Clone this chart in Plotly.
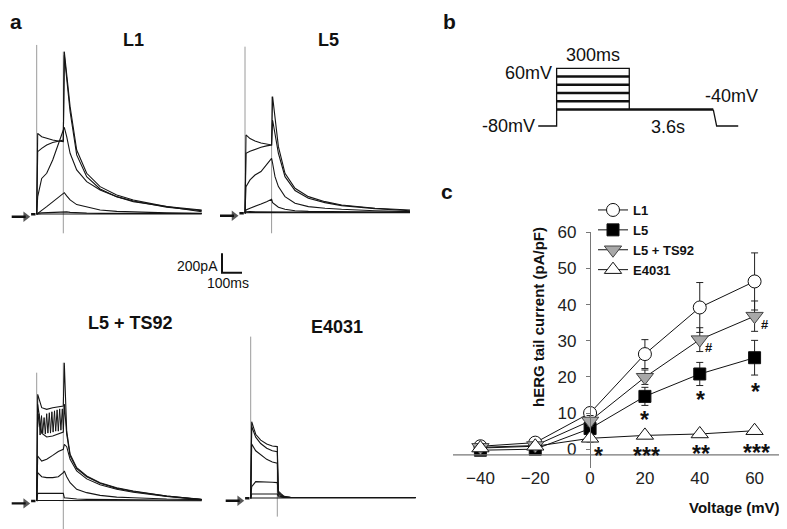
import plotly.graph_objects as go

# the page body adds an 8 px margin, so the figure is laid out in reference
# pixels shifted by OFF and sized to fit the window
W, H, OFF = 787, 529, 8
WF, HF = W - OFF, H - OFF
FONT = "Liberation Sans, Arial, sans-serif"
NARROW = "Liberation Sans Narrow, Liberation Sans, Arial, sans-serif"

# ---- panel a: hERG current traces (pA), sampled at T_MS (ms after step onset)
T_MS = [0, 5, 25, 50, 80, 108, 133, 138, 150, 167, 200, 250, 317, 400, 483, 650, 825]
SWEEP_MV = [60, 40, 20, 0, -20, -40]
HOLD_MS = [-28, -6]
ARROW_MS = [-125, -55]

L1_TRACES = [
    [0, 835, 800, 784, 766, 755, 749, 1677, 1454, 1110, 663, 423, 285, 199, 148, 79, 45],
    [0, 646, 680, 715, 740, 755, 766, 1640, 1400, 1059, 612, 388, 261, 182, 137, 72, 38],
    [0, 182, 370, 423, 560, 732, 880, 897, 801, 629, 457, 337, 251, 180, 131, 79, 27],
    [0, 10, 40, 79, 131, 180, 217, 223, 190, 148, 100, 79, 45, 30, 24, 15, 10],
    [0, 10, 15, 18, 20, 22, 25, 30, 25, 20, 15, 12, 10, 10, 8, 8, 8],
    [0, 2, 3, 3, 3, 3, 3, 5, 5, 5, 3, 3, 3, 3, 3, 3, 3],
]
L1_CAP = [1746, 1677, -196]

L5_TRACES = [
    [0, 808, 770, 745, 725, 712, 705, 1203, 962, 687, 412, 258, 172, 120, 86, 52, 34],
    [0, 619, 640, 660, 680, 695, 705, 962, 825, 619, 378, 234, 155, 110, 79, 48, 27],
    [0, 275, 344, 395, 430, 498, 567, 516, 378, 275, 172, 103, 69, 52, 41, 27, 17],
    [0, 34, 52, 69, 96, 120, 144, 110, 86, 62, 41, 27, 20, 17, 15, 14, 14],
    [0, 15, 17, 17, 17, 18, 18, 20, 18, 17, 15, 14, 12, 12, 12, 10, 10],
    [0, 5, 7, 7, 7, 7, 7, 7, 7, 7, 7, 5, 5, 5, 5, 5, 5],
]
L5_CAP = [1718, 1203, -206]

TS92_TRACES = [
    [0, 1100, 962, 945, 962, 970, 980, 1426, 720, 481, 344, 258, 189, 137, 103, 52, 17],
    [0, 1000, 700, 660, 670, 690, 710, 1000, 690, 465, 333, 250, 182, 130, 98, 50, 16],
    [0, 464, 412, 430, 470, 510, 533, 584, 560, 430, 310, 228, 168, 122, 90, 46, 14],
    [0, 292, 250, 241, 241, 250, 292, 309, 250, 189, 120, 86, 58, 40, 34, 20, 14],
    [0, 79, 79, 79, 79, 79, 79, 34, 30, 25, 20, 17, 15, 14, 12, 10, 8],
    [0, 5, 5, 5, 5, 5, 5, 3, 3, 3, 3, 3, 3, 3, 3, 3, 3],
]
TS92_CAP = [1323, 1426, -309]
TS92_OSC_MS = [5, 11, 17, 24, 30, 37, 43, 50, 56, 63, 69, 76, 82, 89, 95, 102, 108, 115, 121, 128, 133]
TS92_OSC_PA = [760, 900, 680, 880, 700, 860, 690, 900, 700, 910, 700, 920, 710, 930, 720, 940, 720, 950, 730, 950, 740]

E4031_TRACES = [
    [0, 790, 660, 600, 560, 540, 533, 75, 50, 20, 10, 8, 8, 8, 8, 8, 8],
    [0, 740, 630, 565, 516, 490, 481, 60, 40, 15, 8, 8, 8, 8, 8, 8, 8],
    [0, 560, 490, 447, 402, 375, 361, 45, 30, 12, 8, 8, 8, 8, 8, 8, 8],
    [0, 120, 172, 172, 168, 165, 162, 30, 20, 10, 8, 8, 8, 8, 8, 8, 8],
    [0, 45, 45, 45, 45, 45, 45, 15, 10, 8, 8, 8, 8, 8, 8, 8, 8],
    [0, 3, 3, 3, 3, 3, 3, 3, 3, 3, 3, 3, 3, 3, 3, 3, 3],
]
E4031_CAP = [1667, 533, -189]

STEP_END_MS = 133
SCALE_PA = 200
SCALE_MS = 100

# ---- panel b: voltage protocol (drawn time, ms)
PROTO_T = [-76, 0, 0, 300, 300]
PROTO_MV = [-80, -80, 60, 60, -40]
TAIL_T = [647, 661, 750]
TAIL_MV = [-40, -80, -80]
STEP_MV = [40, 20, 0, -20]
TEST_END_MS = 300

# ---- panel c: tail current density (pA/pF)
VOLTAGE = [-40, -20, 0, 20, 40, 60]
L1_MEAN = [0.8, 1.8, 10.0, 26.3, 39.2, 46.4]
L1_SEM = [0.5, 0.6, 1.5, 4.0, 6.9, 7.9]
L5_MEAN = [-0.3, 0.0, 5.7, 14.6, 20.8, 25.3]
L5_SEM = [0.3, 0.4, 1.5, 2.5, 3.2, 4.8]
TS92_MEAN = [0.5, 1.0, 7.8, 19.9, 30.3, 36.8]
TS92_SEM = [0.4, 0.5, 1.5, 2.0, 3.3, 4.2]
E4031_MEAN = [0.3, 0.8, 3.0, 3.8, 4.2, 5.1]
E4031_SEM = [0.2, 0.3, 1.0, 0.5, 0.5, 0.5]

STAR_X = [60.3, 40.3, 19.8, 3.1, 20.4, 40.3, 60.6]
STAR_Y = [16.9, 14.8, 9.2, -0.7, -0.7, -0.2, 0.0]
STAR_TEXT = ["*", "*", "*", "*", "***", "**", "***"]
HASH_X = [63.9, 43.5]
HASH_Y = [34.4, 28.0]


def px(x):
    return (x - OFF) / WF


def py(y):
    return 1 - (y - OFF) / HF


MS_PER_PX = 5.0
PA_PER_PX = 10.31

fig = go.Figure()
layout = dict(
    width=WF, height=HF, autosize=False, margin=dict(l=0, r=0, t=0, b=0, pad=0),
    paper_bgcolor="white", plot_bgcolor="rgba(0,0,0,0)",
    font=dict(family=FONT, color="#111"),
    showlegend=True,
)
annotations = []


def label(text, x, y, size, xanchor="center", yanchor="middle", **kw):
    annotations.append(dict(x=px(x), y=py(y), xref="paper", yref="paper", text=text,
                            xanchor=xanchor, yanchor=yanchor, showarrow=False,
                            font=dict(size=size, color="#111", family=kw.pop("family", FONT)),
                            **kw))


panels = [
    ("L1", L1_TRACES, L1_CAP, 36.7, 214.3, 133.3, 40),
    ("L5", L5_TRACES, L5_CAP, 245, 213.3, 328.3, 40),
    ("L5 + TS92", TS92_TRACES, TS92_CAP, 36.7, 501, 130, 323),
    ("E4031", E4031_TRACES, E4031_CAP, 250.7, 498.3, 337.3, 327),
]
for i, (name, traces, cap, t0, base, tx, ty) in enumerate(panels):
    n = i + 2
    xa, ya = "x%d" % n, "y%d" % n
    left = max(OFF, t0 - 32)
    bottom = min(H, base + 28)
    layout["xaxis%d" % n] = dict(domain=[px(left), px(t0 + 175)],
                                 range=[(left - t0) * MS_PER_PX, 175 * MS_PER_PX],
                                 visible=False, anchor=ya, automargin=False)
    layout["yaxis%d" % n] = dict(domain=[py(bottom), py(base - 180)],
                                 range=[(base - bottom) * PA_PER_PX, 180 * PA_PER_PX],
                                 visible=False, anchor=xa, automargin=False)
    # capacitive transients
    fig.add_trace(go.Scatter(x=[0, 0, None, STEP_END_MS, STEP_END_MS],
                             y=[0, cap[0], None, cap[1], cap[2]],
                             mode="lines", line=dict(color="#9a9a9a", width=1),
                             xaxis=xa, yaxis=ya, showlegend=False, hoverinfo="skip"))
    for tr in traces:
        fig.add_trace(go.Scatter(x=T_MS, y=tr, mode="lines",
                                 line=dict(color="#151515", width=1.1),
                                 xaxis=xa, yaxis=ya, showlegend=False))
    if name == "L5 + TS92":
        fig.add_trace(go.Scatter(x=TS92_OSC_MS, y=TS92_OSC_PA, mode="lines",
                                 line=dict(color="#151515", width=1),
                                 xaxis=xa, yaxis=ya, showlegend=False))
    fig.add_trace(go.Scatter(x=HOLD_MS, y=[0, 0], mode="lines",
                             line=dict(color="#111", width=2.5),
                             xaxis=xa, yaxis=ya, showlegend=False))
    # zero-current arrow
    fig.add_trace(go.Scatter(x=ARROW_MS, y=[-25, -25], mode="lines+markers",
                             line=dict(color="#111", width=2.4),
                             marker=dict(symbol="triangle-right", size=[0, 9], color="#111",
                                         line=dict(width=0)),
                             cliponaxis=False, xaxis=xa, yaxis=ya, showlegend=False))
    label("<b>%s</b>" % name, tx, ty, 18)

# scale bar
layout["xaxis6"] = dict(domain=[px(215), px(250)], range=[-7 * MS_PER_PX, 28 * MS_PER_PX],
                        visible=False, anchor="y6", automargin=False)
layout["yaxis6"] = dict(domain=[py(276), py(250)],
                        range=[-3.3 * PA_PER_PX, 22.7 * PA_PER_PX],
                        visible=False, anchor="x6", automargin=False)
fig.add_trace(go.Scatter(x=[0, 0, SCALE_MS], y=[SCALE_PA, 0, 0], mode="lines",
                         line=dict(color="#111", width=2), xaxis="x6", yaxis="y6",
                         showlegend=False))
label("%dpA" % SCALE_PA, 220, 266, 14, xanchor="right")
label("%dms" % SCALE_MS, 228.3, 283, 14)

# panel b protocol
layout["xaxis7"] = dict(domain=[px(530), px(745)], range=[-110, 778],
                        visible=False, anchor="y7", automargin=False)
layout["yaxis7"] = dict(domain=[py(135), py(60)], range=[-101.8, 80.1],
                        visible=False, anchor="x7", automargin=False)
fig.add_trace(go.Scatter(x=PROTO_T, y=PROTO_MV, mode="lines",
                         line=dict(color="#111", width=1.3), xaxis="x7", yaxis="y7",
                         showlegend=False))
fig.add_trace(go.Scatter(x=TAIL_T, y=TAIL_MV, mode="lines",
                         line=dict(color="#111", width=1.3), xaxis="x7", yaxis="y7",
                         showlegend=False))
sx, sy = [], []
for v in STEP_MV:
    sx += [0, TEST_END_MS, None]
    sy += [v, v, None]
sx += [0, TAIL_T[0]]
sy += [TAIL_MV[0], TAIL_MV[0]]
fig.add_trace(go.Scatter(x=sx, y=sy, mode="lines", line=dict(color="#111", width=2.6),
                         xaxis="x7", yaxis="y7", showlegend=False))
for txt, x, y, xa in [("300ms", 593.3, 55, "center"), ("60mV", 554, 72.7, "right"),
                      ("-80mV", 537, 126, "right"), ("-40mV", 731.7, 95.7, "center"),
                      ("3.6s", 668.3, 126.7, "center")]:
    label(txt, x, y, 18, xanchor=xa, family=NARROW)

# panel c
x0, x1 = px(453), px(782)
layout["xaxis"] = dict(domain=[x0, x1], range=[-50, 70], showline=False, zeroline=False,
                       showgrid=False, ticks="", tickvals=[-40, -20, 0, 20, 40, 60],
                       ticklabelstandoff=-2,
                       tickfont=dict(size=17, color="#222"), anchor="y", automargin=False)
layout["yaxis"] = dict(domain=[py(468.3), py(232.3)], range=[-5.3, 60], anchor="free",
                       position=x0 + (x1 - x0) * 50 / 120, showline=True,
                       linecolor="#777", linewidth=1.3, ticks="outside", ticklen=4,
                       tickcolor="#777", tickvals=[0, 10, 20, 30, 40, 50, 60],
                       ticklabelstandoff=6, automargin=False,
                       zeroline=False, showgrid=False, tickfont=dict(size=17, color="#222"))
layout["shapes"] = [dict(type="line", xref="x", yref="y", x0=-50, x1=70, y0=-1.6, y1=-1.6,
                         line=dict(color="#777", width=1.3))]

series = [
    ("L1", L1_MEAN, L1_SEM, dict(symbol="circle", size=13, color="white",
                                 line=dict(color="#111", width=1))),
    ("L5", L5_MEAN, L5_SEM, dict(symbol="square", size=12, color="black",
                                 line=dict(color="#111", width=1))),
    ("L5 + TS92", TS92_MEAN, TS92_SEM, dict(symbol="triangle-down", size=15, color="#a8a8a8",
                                            line=dict(color="#444", width=1))),
    ("E4031", E4031_MEAN, E4031_SEM, dict(symbol="triangle-up", size=15, color="white",
                                          line=dict(color="#111", width=1))),
]
for name, mean, sem, marker in series:
    fig.add_trace(go.Scatter(x=VOLTAGE, y=mean, name=name, mode="lines+markers",
                             line=dict(color="#111", width=1), marker=marker,
                             error_y=dict(type="data", array=sem, color="#222",
                                          thickness=1, width=3.5),
                             xaxis="x", yaxis="y"))

for t, x, y in zip(STAR_TEXT, STAR_X, STAR_Y):
    annotations.append(dict(x=x, y=y, xref="x", yref="y", text="<b>%s</b>" % t,
                            showarrow=False, yshift=-4, font=dict(size=23, color="#111")))
for x, y in zip(HASH_X, HASH_Y):
    annotations.append(dict(x=x, y=y, xref="x", yref="y", text="<b>#</b>",
                            showarrow=False, font=dict(size=13, color="#111")))

label("<b>hERG tail current (pA/pF)</b>", 538, 317, 15, textangle=-90)
label("<b>Voltage (mV)</b>", 782, 507, 15, xanchor="right")
label("<b>a</b>", 8, 8, 21, xanchor="left", yanchor="top")
label("<b>b</b>", 441, 8, 21, xanchor="left", yanchor="top")
label("<b>c</b>", 447, 191, 21)

layout["annotations"] = annotations
layout["legend"] = dict(x=px(593), y=py(195), xanchor="left", yanchor="top",
                        bgcolor="rgba(0,0,0,0)",
                        font=dict(size=13, color="#111", weight="bold"),
                        tracegroupgap=0, itemwidth=30)
fig.update_layout(**layout)
fig.write_html("out.html")
